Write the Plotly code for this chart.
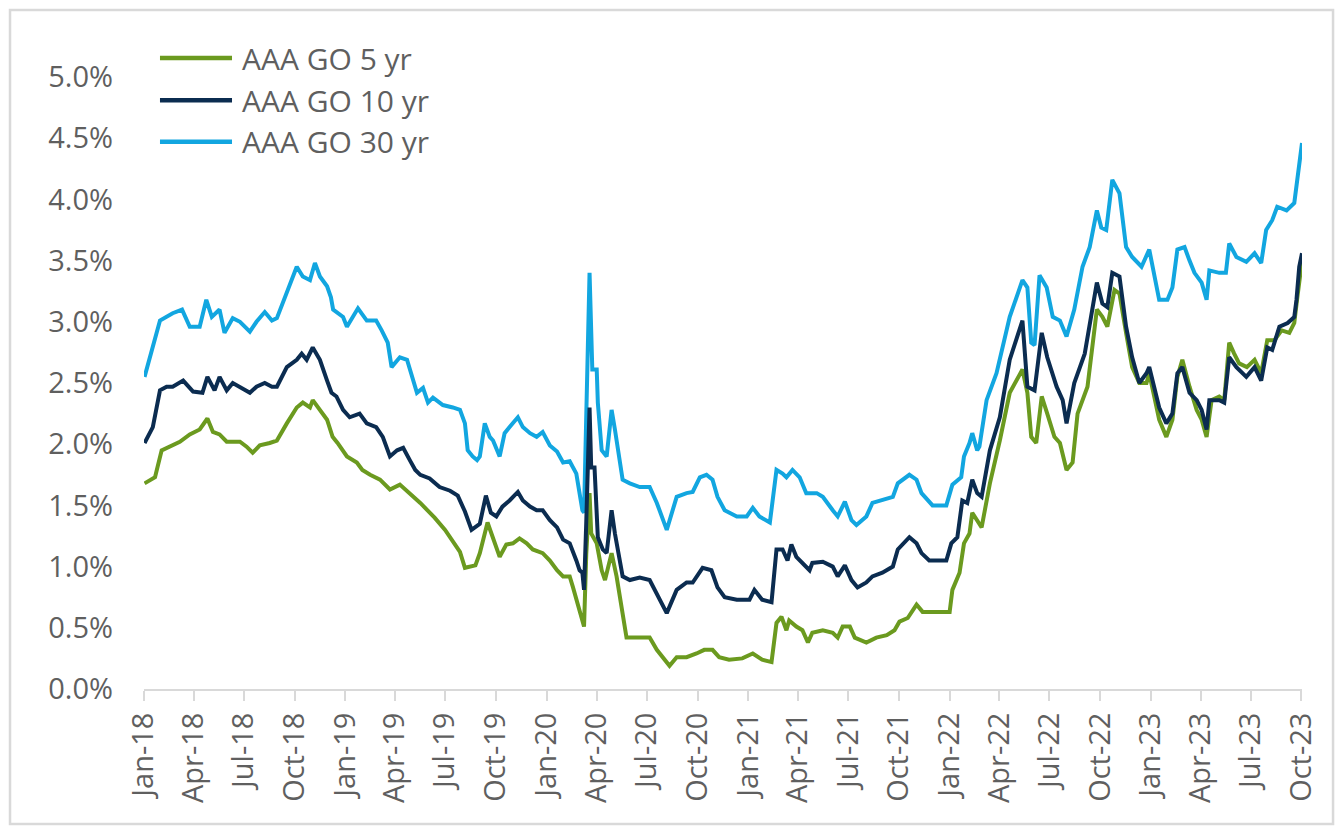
import plotly.graph_objects as go

# ---------------- data (yields in %) ----------------
series_names = ["AAA GO 5 yr", "AAA GO 10 yr", "AAA GO 30 yr"]
series_colors = ["#6B9A1F", "#0B2C50", "#12A6E0"]

dates_30 = ["2018-01-02","2018-01-12","2018-01-30","2018-02-22","2018-03-11","2018-03-25","2018-04-12","2018-04-24","2018-05-04","2018-05-18","2018-05-27","2018-06-11","2018-06-24","2018-07-12","2018-07-24","2018-08-08","2018-08-21","2018-08-30","2018-09-17","2018-10-05","2018-10-16","2018-10-29","2018-11-07","2018-11-16","2018-11-29","2018-12-06","2018-12-10","2018-12-28",
            "2019-01-04","2019-01-24","2019-02-09","2019-02-26","2019-03-08","2019-03-19","2019-03-26","2019-04-10","2019-04-23","2019-05-04","2019-05-11","2019-05-22","2019-05-31","2019-06-09","2019-06-27","2019-07-15","2019-07-28","2019-08-06","2019-08-11","2019-08-20","2019-08-28","2019-09-02","2019-09-11","2019-09-20","2019-09-26","2019-10-08","2019-10-17","2019-10-26","2019-11-10","2019-11-19","2019-12-02","2019-12-14","2019-12-25",
            "2020-01-07","2020-01-20","2020-01-31","2020-02-12","2020-02-24","2020-03-01","2020-03-06","2020-03-09","2020-03-13","2020-03-19","2020-03-24","2020-04-01","2020-04-03","2020-04-10","2020-04-19","2020-04-28","2020-05-04","2020-05-18","2020-05-31","2020-06-18","2020-07-06","2020-07-19","2020-08-06","2020-08-24","2020-09-11","2020-09-22","2020-10-05","2020-10-17","2020-10-28","2020-11-06","2020-11-19","2020-12-11","2020-12-29",
            "2021-01-09","2021-01-21","2021-02-09","2021-02-21","2021-03-04","2021-03-11","2021-03-22","2021-04-04","2021-04-16","2021-05-05","2021-05-16","2021-06-03","2021-06-12","2021-06-25","2021-07-07","2021-07-16","2021-08-03","2021-08-14","2021-09-09","2021-09-20","2021-09-29","2021-10-20","2021-11-02","2021-11-11","2021-12-01","2021-12-26",
            "2022-01-06","2022-01-22","2022-01-27","2022-02-06","2022-02-11","2022-02-20","2022-02-24","2022-03-09","2022-03-27","2022-04-20","2022-05-13","2022-05-22","2022-05-29","2022-06-04","2022-06-13","2022-06-26","2022-07-07","2022-07-20","2022-08-01","2022-08-15","2022-08-30","2022-09-12","2022-09-25","2022-10-03","2022-10-12","2022-10-23","2022-11-05","2022-11-17","2022-11-28","2022-12-15","2022-12-29",
            "2023-01-07","2023-01-16","2023-01-31","2023-02-09","2023-02-18","2023-03-03","2023-03-12","2023-03-21","2023-04-03","2023-04-12","2023-04-17","2023-05-05","2023-05-17","2023-05-23","2023-06-05","2023-06-23","2023-07-08","2023-07-20","2023-07-29","2023-08-09","2023-08-18","2023-09-04","2023-09-18","2023-09-23","2023-09-30","2023-10-02"]
yield_30 = [2.55,2.71,3.01,3.07,3.10,2.96,2.96,3.18,3.04,3.10,2.91,3.03,3.00,2.92,3.00,3.08,3.01,3.03,3.24,3.45,3.37,3.34,3.48,3.37,3.29,3.20,3.10,3.04,
            2.96,3.11,3.01,3.01,2.93,2.83,2.63,2.71,2.69,2.52,2.42,2.46,2.34,2.38,2.32,2.30,2.28,2.17,1.95,1.90,1.87,1.90,2.17,2.06,2.03,1.90,2.09,2.14,2.22,2.14,2.09,2.06,2.10,
            1.99,1.94,1.85,1.86,1.76,1.60,1.46,1.44,2.39,3.40,2.61,2.61,2.34,1.95,1.90,2.28,2.12,1.71,1.68,1.65,1.65,1.52,1.30,1.57,1.60,1.61,1.73,1.75,1.71,1.57,1.46,1.41,1.41,
            1.48,1.41,1.36,1.79,1.76,1.73,1.79,1.73,1.60,1.60,1.57,1.46,1.41,1.53,1.38,1.34,1.41,1.52,1.56,1.57,1.68,1.75,1.71,1.60,1.50,1.50,
            1.67,1.73,1.90,2.01,2.09,1.95,1.98,2.36,2.58,3.04,3.34,3.28,2.83,2.81,3.38,3.28,3.04,3.01,2.88,3.10,3.45,3.61,3.91,3.77,3.75,4.16,4.05,3.61,3.53,3.45,3.59,
            3.37,3.18,3.18,3.28,3.59,3.61,3.50,3.40,3.32,3.18,3.42,3.40,3.40,3.64,3.53,3.49,3.56,3.48,3.75,3.83,3.94,3.91,3.97,4.13,4.38,4.46]

dates_10 = ["2018-01-02","2018-01-17","2018-01-30","2018-02-11","2018-02-22","2018-03-13","2018-03-31","2018-04-17","2018-04-26","2018-05-09","2018-05-18","2018-05-31","2018-06-11","2018-06-24","2018-07-12","2018-07-24","2018-08-08","2018-08-21","2018-08-30","2018-09-17","2018-10-05","2018-10-14","2018-10-23","2018-11-03","2018-11-16","2018-11-29","2018-12-07","2018-12-16","2018-12-28",
            "2019-01-09","2019-01-27","2019-02-09","2019-02-26","2019-03-10","2019-03-23","2019-04-05","2019-04-16","2019-04-28","2019-05-08","2019-05-17","2019-06-03","2019-06-21","2019-07-10","2019-07-24","2019-08-06","2019-08-18","2019-09-02","2019-09-13","2019-09-22","2019-10-02","2019-10-13","2019-10-26","2019-11-10","2019-11-19","2019-12-02","2019-12-14","2019-12-25",
            "2020-01-07","2020-01-20","2020-01-31","2020-02-12","2020-02-24","2020-03-01","2020-03-06","2020-03-09","2020-03-13","2020-03-19","2020-03-22","2020-03-28","2020-04-03","2020-04-12","2020-04-19","2020-04-28","2020-05-04","2020-05-18","2020-05-31","2020-06-18","2020-07-06","2020-07-19","2020-08-06","2020-08-24","2020-09-11","2020-09-22","2020-10-10","2020-10-26","2020-11-06","2020-11-19","2020-12-11",
            "2021-01-03","2021-01-12","2021-01-26","2021-02-12","2021-02-21","2021-03-04","2021-03-13","2021-03-20","2021-03-29","2021-04-09","2021-04-22","2021-04-27","2021-05-16","2021-06-03","2021-06-12","2021-06-25","2021-07-07","2021-07-18","2021-08-03","2021-08-14","2021-09-01","2021-09-20","2021-09-29","2021-10-20","2021-11-02","2021-11-11","2021-11-25","2021-12-26",
            "2022-01-04","2022-01-15","2022-01-24","2022-02-02","2022-02-11","2022-02-20","2022-02-28","2022-03-15","2022-04-02","2022-04-20","2022-05-13","2022-05-22","2022-06-04","2022-06-17","2022-06-27","2022-07-14","2022-07-25","2022-08-01","2022-08-15","2022-09-03","2022-09-25","2022-10-05","2022-10-14","2022-10-23","2022-11-05","2022-11-17","2022-11-28","2022-12-11","2022-12-24","2022-12-29",
            "2023-01-07","2023-01-16","2023-01-29","2023-02-09","2023-02-18","2023-02-27","2023-03-12","2023-03-25","2023-04-03","2023-04-12","2023-04-17","2023-05-05","2023-05-14","2023-05-23","2023-06-05","2023-06-23","2023-07-08","2023-07-20","2023-07-31","2023-08-09","2023-08-22","2023-09-06","2023-09-18","2023-09-22","2023-09-27","2023-10-02"]
yield_10 = [2.01,2.14,2.44,2.47,2.47,2.52,2.43,2.42,2.55,2.44,2.55,2.44,2.50,2.47,2.42,2.47,2.50,2.47,2.47,2.63,2.69,2.74,2.69,2.79,2.69,2.52,2.42,2.39,2.28,
            2.22,2.25,2.17,2.14,2.06,1.90,1.95,1.97,1.87,1.79,1.75,1.72,1.65,1.62,1.58,1.45,1.30,1.35,1.58,1.44,1.41,1.49,1.54,1.61,1.54,1.49,1.46,1.46,
            1.38,1.32,1.22,1.19,1.05,0.97,0.95,0.81,1.36,2.30,1.81,1.81,1.24,1.14,1.11,1.46,1.27,0.92,0.89,0.91,0.89,0.78,0.62,0.81,0.87,0.87,0.99,0.97,0.83,0.75,0.73,
            0.73,0.81,0.73,0.71,1.14,1.14,1.05,1.18,1.08,1.03,0.97,1.03,1.04,1.00,0.92,1.01,0.89,0.83,0.87,0.92,0.95,1.00,1.14,1.24,1.19,1.11,1.05,1.05,
            1.19,1.24,1.54,1.52,1.71,1.60,1.57,1.95,2.22,2.69,3.01,2.47,2.44,2.91,2.71,2.47,2.36,2.17,2.50,2.74,3.32,3.15,3.12,3.40,3.37,2.96,2.71,2.50,2.58,2.63,
            2.47,2.30,2.17,2.25,2.58,2.63,2.42,2.36,2.28,2.12,2.36,2.36,2.34,2.71,2.63,2.55,2.63,2.52,2.79,2.77,2.96,2.99,3.04,3.18,3.45,3.56]

dates_5 = ["2018-01-02","2018-01-21","2018-02-02","2018-02-17","2018-03-07","2018-03-25","2018-04-12","2018-04-26","2018-05-06","2018-05-18","2018-05-31","2018-06-24","2018-07-06","2018-07-17","2018-07-30","2018-08-17","2018-08-30","2018-09-17","2018-10-05","2018-10-16","2018-10-29","2018-11-03","2018-11-16","2018-11-29","2018-12-09","2018-12-18",
           "2019-01-04","2019-01-22","2019-02-01","2019-02-15","2019-03-05","2019-03-23","2019-04-10","2019-04-28","2019-05-17","2019-06-12","2019-07-01","2019-07-28","2019-08-06","2019-08-25","2019-09-02","2019-09-16","2019-09-25","2019-10-08","2019-10-20","2019-11-01","2019-11-13","2019-11-26","2019-12-07","2019-12-25",
           "2020-01-07","2020-01-20","2020-01-31","2020-02-12","2020-02-18","2020-03-01","2020-03-09","2020-03-13","2020-03-19","2020-03-22","2020-04-01","2020-04-03","2020-04-10","2020-04-16","2020-04-28","2020-05-07","2020-05-18","2020-05-25","2020-06-18","2020-07-06","2020-07-19","2020-08-02","2020-08-11","2020-08-24","2020-09-11","2020-09-29","2020-10-13","2020-10-28","2020-11-09","2020-11-27","2020-12-21",
           "2021-01-09","2021-01-26","2021-02-12","2021-02-21","2021-03-02","2021-03-11","2021-03-16","2021-03-29","2021-04-09","2021-04-19","2021-04-27","2021-05-16","2021-06-03","2021-06-12","2021-06-21","2021-07-04","2021-07-13","2021-08-03","2021-08-21","2021-09-09","2021-09-23","2021-10-02","2021-10-17","2021-11-02","2021-11-13","2021-11-30",
           "2022-01-01","2022-01-06","2022-01-19","2022-01-27","2022-02-06","2022-02-11","2022-02-20","2022-02-28","2022-03-15","2022-04-02","2022-04-20","2022-05-13","2022-05-22","2022-05-29","2022-06-07","2022-06-17","2022-06-27","2022-07-10","2022-07-20","2022-08-01","2022-08-12","2022-08-21","2022-09-08","2022-09-25","2022-10-05","2022-10-14","2022-10-27","2022-11-05","2022-11-17","2022-11-28","2022-12-11","2022-12-24","2022-12-29",
           "2023-01-07","2023-01-16","2023-01-29","2023-02-09","2023-02-18","2023-02-27","2023-03-12","2023-03-25","2023-04-03","2023-04-12","2023-04-21","2023-05-05","2023-05-14","2023-05-23","2023-06-01","2023-06-10","2023-06-24","2023-07-08","2023-07-20","2023-07-31","2023-08-13","2023-08-26","2023-09-09","2023-09-18","2023-09-23","2023-09-30","2023-10-02"]
yield_5 = [1.68,1.73,1.95,1.98,2.02,2.08,2.12,2.21,2.10,2.08,2.02,2.02,1.98,1.93,1.99,2.01,2.03,2.17,2.30,2.34,2.30,2.36,2.28,2.20,2.06,2.01,
           1.90,1.85,1.79,1.75,1.71,1.63,1.67,1.60,1.52,1.40,1.30,1.12,0.99,1.01,1.11,1.36,1.24,1.08,1.18,1.19,1.23,1.19,1.14,1.11,
           1.05,0.97,0.92,0.92,0.83,0.65,0.51,1.10,1.60,1.27,1.19,1.14,0.97,0.89,1.11,0.92,0.59,0.42,0.42,0.42,0.32,0.24,0.19,0.26,0.26,0.29,0.32,0.32,0.26,0.24,0.25,
           0.29,0.24,0.22,0.54,0.59,0.48,0.56,0.51,0.48,0.38,0.46,0.48,0.46,0.42,0.51,0.51,0.42,0.38,0.42,0.44,0.48,0.55,0.58,0.69,0.63,0.63,
           0.63,0.81,0.95,1.19,1.27,1.44,1.38,1.32,1.68,2.03,2.42,2.61,2.42,2.06,2.01,2.39,2.25,2.06,2.01,1.79,1.85,2.25,2.47,3.10,3.04,2.96,3.26,3.23,2.91,2.63,2.50,2.50,2.58,
           2.39,2.20,2.06,2.20,2.55,2.69,2.47,2.28,2.20,2.06,2.36,2.39,2.36,2.83,2.74,2.66,2.63,2.69,2.58,2.85,2.85,2.93,2.91,2.99,3.18,3.42,3.50]

x_range = ["2018-01-01", "2023-10-02"]
y_range = [0, 5.0]

# ---------------- figure ----------------
fig = go.Figure()
series = [(dates_5, yield_5), (dates_10, yield_10), (dates_30, yield_30)]
draw_order = [2, 0, 1]  # 30yr underneath, 10yr on top
for i in draw_order:
    d, v = series[i]
    fig.add_trace(go.Scatter(x=d, y=v, mode="lines", name=series_names[i],
                             line=dict(color=series_colors[i], width=4),
                             showlegend=False, hoverinfo="x+y"))

FONT = "Open Sans"
GRAY = "#5F5F5F"
AXIS = "#D9D9D9"

fig.update_layout(
    width=1340, height=831,
    margin=dict(l=144, r=38, t=77, b=142),
    paper_bgcolor="white", plot_bgcolor="white",
    font=dict(family=FONT, size=29, color=GRAY),
    showlegend=False,
)
fig.update_xaxes(
    type="date", range=x_range,
    tick0="2018-01-01", dtick="M3", tickformat="%b-%y", tickangle=-90,
    ticks="outside", ticklen=10, tickwidth=2, tickcolor=AXIS,
    showline=True, linecolor=AXIS, linewidth=2,
    showgrid=False, zeroline=False,
    tickfont=dict(family=FONT, size=29, color=GRAY),
)
fig.update_yaxes(
    range=y_range, dtick=0.5, tickformat=".1f", ticksuffix="%",
    showgrid=False, zeroline=False, showline=False, ticks="",
    ticklabelstandoff=30,
    tickfont=dict(family=FONT, size=29, color=GRAY),
)

# legend drawn manually (long line samples as in the reference)
legend_y = [1.031, 0.962, 0.894]
for name, color, ly in zip(series_names, series_colors, legend_y):
    fig.add_shape(type="line", xref="paper", yref="paper",
                  x0=0.0138, x1=0.0760, y0=ly, y1=ly,
                  line=dict(color=color, width=4.5))
    fig.add_annotation(xref="paper", yref="paper", x=0.0829, y=ly,
                       xanchor="left", yanchor="middle", showarrow=False,
                       text=name, font=dict(family=FONT, size=30, color=GRAY))

# outer chart border
fig.add_shape(type="rect", xref="paper", yref="paper",
              x0=-0.1157, x1=1.0268, y0=-0.2206, y1=1.1095,
              line=dict(color=AXIS, width=2.5), layer="below")

fig.write_html("out.html")
